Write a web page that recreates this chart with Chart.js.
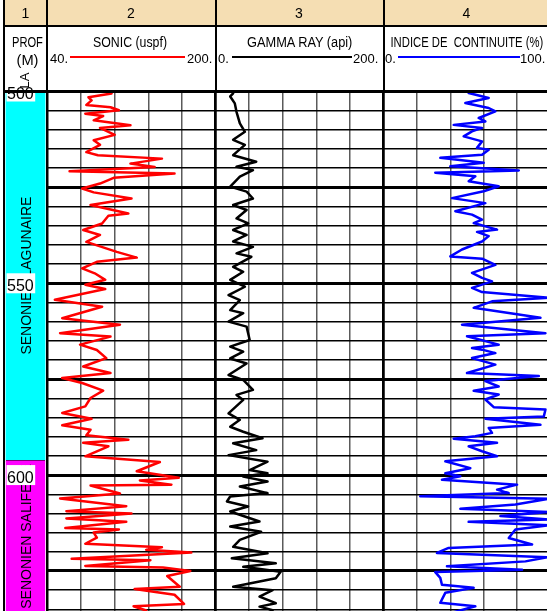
<!DOCTYPE html>
<html>
<head>
<meta charset="utf-8">
<title>Diagraphies</title>
<script src="https://cdn.jsdelivr.net/npm/chart.js@4.4.1/dist/chart.umd.min.js"></script>
<style>
  html, body { margin: 0; padding: 0; }
  body { width: 547px; height: 611px; overflow: hidden; position: relative; background: #fff;
         font-family: "Liberation Sans", Arial, sans-serif; color: #000; }
  canvas { position: absolute; z-index: 1; }
  .rule { position: absolute; z-index: 5; }
  .txt { position: absolute; white-space: pre; line-height: normal; z-index: 6; }
</style>
</head>
<body>
<div style="position:absolute;left:4px;top:0;width:546px;height:26px;background:#f5deb3;"></div>
<canvas id="track1"></canvas>
<canvas id="track2"></canvas>
<canvas id="track3"></canvas>
<canvas id="track4"></canvas>
<script>
// depth window (m)
const depthMin = 500;
const depthMax = 640;
const depthLabels = [500, 550, 600];

// stratigraphy column
const strataNames = ['SENONIEN LAGUNAIRE', 'SENONIEN SALIFERE'];
const strataTop = [500, 596];
const strataBase = [596, 636];
const strataColors = ['#00ffff', '#ff00ff'];

// SONIC (uspf)
const sonicDepth = [500.5, 501.5, 502.3, 503.5, 504.1, 504.9, 505.8, 506.4, 507.5, 508.8, 509.5, 511.3, 512.7, 513.9, 515.8, 516.6, 517.5, 518.8, 519.7, 520.8,
  521.4, 522.5, 524, 525.3, 526.3, 527.9, 529.6, 531.8, 532.4, 534.4, 536.1, 537.4, 539.2, 541.8, 543.3, 544.4, 546.1, 547.4, 549.1, 550.4,
  551.5, 554.3, 556.1, 559.1, 560.8, 563, 563.9, 566, 567.4, 569.5, 571.7, 573.4, 574.7, 576, 578, 579.9, 582.1, 583.8, 585.3, 587,
  588.2, 589.6, 590.8, 591.6, 592.5, 595.1, 596.6, 599, 600.7, 601.4, 602.5, 602.7, 604.8, 606.1, 608.1, 609.4, 610, 611.3, 612.2, 613.8,
  614.2, 615, 616.3, 617.9, 618.8, 619.5, 620.2, 621.8, 622.2, 623.7, 624.1, 625, 626.3, 629.1, 629.7, 631.2, 633.6, 634.2, 635.3, 637,
  638.5, 640];
const sonicValue = [101, 79, 82, 77, 100, 108, 76, 93, 84, 119, 90, 104, 84, 90, 77, 88, 149, 119, 142, 61,
  161, 103, 90, 73, 84, 120, 81, 117, 98, 92, 74, 90, 77, 106, 125, 87, 73, 85, 95, 76,
  95, 47, 92, 54, 109, 52, 100, 71, 87, 96, 74, 100, 54, 73, 93, 81, 76, 54, 82, 54,
  81, 77, 117, 74, 98, 76, 147, 125, 165, 128, 158, 81, 109, 52, 115, 58, 120, 58, 115, 57,
  108, 84, 87, 76, 149, 134, 177, 63, 138, 76, 150, 176, 154, 166, 123, 161, 170, 122, 134, 128,
  150, 130];

// GAMMA RAY (api)
const gammaDepth = [500.5, 501.3, 503.1, 505.3, 508.3, 510.5, 512.6, 513.9, 516.6, 518.3, 519.6, 520.5, 522.2, 524.8, 526.1, 527.9, 529.6, 530.9, 533.1, 534.4,
  536.1, 537.4, 539.1, 540.5, 542.2, 543.1, 545.7, 547, 549.1, 550.9, 553.1, 554.4, 557, 557.8, 560, 561.3, 564.8, 566.5, 567.8, 569.6,
  570.9, 573.9, 575.2, 577.8, 579.1, 580.4, 583.9, 585.6, 587.4, 588.7, 590.4, 591.7, 593.5, 594.8, 596.5, 598.7, 599.5, 600.4, 601.7, 603,
  604.7, 605.6, 606.9, 608.2, 609.5, 612.1, 613.4, 614.8, 616.9, 618.7, 620.4, 621.7, 623, 623.9, 625.2, 626.9, 629.1, 630, 631.7, 633.4,
  634.3, 635.2, 637, 639];
const gammaValue = [21, 17.5, 23, 25, 29, 35, 21, 35, 21, 48.5, 25, 44.6, 29, 17.5, 37, 44.6, 21, 37, 25, 39,
  21, 37, 21, 44.6, 25, 42.7, 21, 33, 17.5, 35, 15.5, 29, 17.5, 33, 15.5, 37, 40.7, 17.5, 33, 17.5,
  37, 15.5, 33, 44.6, 25, 33, 15.5, 29, 17.5, 33, 56, 21, 48.5, 15.5, 62, 40.7, 62, 33, 62, 29,
  62, 17.5, 13.6, 38.8, 17.5, 52.4, 17.5, 54.3, 29, 21, 62, 19.4, 71.8, 33, 77.6, 71.8, 21, 68, 52.4, 71.8,
  52.4, 68, 55, 65];

// INDICE DE CONTINUITE (%)
const indexDepth = [500.4, 501.7, 503, 504.3, 505.2, 506.9, 507.8, 508.7, 509.5, 510.4, 511.7, 513, 514.7, 515.2, 516.5, 517.3, 518.6, 519.5, 520.6, 521.2,
  522.1, 523.4, 524.7, 526, 527.8, 529.1, 531.2, 532.1, 533.4, 534.3, 536, 536.6, 537.7, 539.1, 541.2, 543, 543.6, 545.2, 547.3, 548.6,
  549.5, 551.2, 552.3, 553.8, 554.7, 556.4, 559, 560.8, 563, 563.8, 566, 566.9, 567.3, 568.2, 569.5, 571.2, 573.4, 574.2, 575.5, 576.9,
  578, 579, 580.3, 582.3, 582.9, 584.7, 585.3, 586.9, 587.7, 589, 589.9, 590.5, 591.6, 592.5, 593.8, 595.1, 596.4, 598.2, 599.5, 600.3,
  601.2, 602.5, 603.8, 604.7, 605.5, 606.2, 607.7, 608.8, 609.6, 610.7, 611.6, 612.2, 613.1, 614.2, 616.4, 618.1, 619, 620.3, 621.4, 622.5,
  623.8, 624.7, 625.3, 626.8, 628.6, 629.4, 630.7, 633.3, 634.2, 636, 638];
const indexValue = [51, 63, 49, 63, 67, 57, 61, 42, 59, 53, 48, 59, 56, 63, 59, 34, 60, 40, 81, 31,
  55, 51, 69, 60, 41, 61, 43, 53, 59, 54, 68, 56, 63, 59, 47, 40, 59, 67, 53, 59,
  65, 53, 59, 99, 65, 54, 94, 47, 97, 50, 69, 53, 59, 67, 53, 67, 50, 93, 61, 69,
  54, 69, 61, 66, 97, 96, 61, 94, 63, 65, 55, 42, 68, 51, 59, 68, 37, 52, 37, 46,
  35, 80, 68, 75, 22, 99, 79, 46, 99, 70, 99, 51, 99, 79, 75, 89, 39, 32, 98, 85,
  38, 83, 31, 34, 35, 54, 37, 34, 55, 40, 50];

const tracks = [
  { id: 'track2', left: 47.5, width: 168, min: 40, max: 200, step: 32, depth: sonicDepth, values: sonicValue, color: '#ff0000' },
  { id: 'track3', left: 215.5, width: 168, min: 0, max: 200, step: 40, depth: gammaDepth, values: gammaValue, color: '#000000' },
  { id: 'track4', left: 383.5, width: 167, min: 0, max: 100, step: 20, depth: indexDepth, values: indexValue, color: '#0000ff' }
];

const canvasTop = 80, areaTop = 91.5, areaHeight = 537, canvasHeight = 560;
const FONT = '"Liberation Sans", Arial, sans-serif';

// size a canvas so that its chart area lands on the given page pixels
function placeCanvas(id, areaLeft, areaWidth) {
  const c = document.getElementById(id);
  const left = Math.floor(areaLeft) - 7;
  const padLeft = areaLeft - left;
  const width = Math.ceil(padLeft + areaWidth + 8);
  c.width = width;
  c.height = canvasHeight;
  c.style.left = left + 'px';
  c.style.top = canvasTop + 'px';
  const padTop = areaTop - canvasTop;
  return {
    canvas: c,
    padding: { left: padLeft, right: width - padLeft - areaWidth, top: padTop, bottom: canvasHeight - padTop - areaHeight }
  };
}

// rotated formation names and white depth boxes in column 1
const strataText = {
  id: 'strataText',
  afterDatasetsDraw(chart) {
    const { ctx, chartArea, scales: { y } } = chart;
    const cx = (chartArea.left + chartArea.right) / 2 + 2;
    ctx.save();
    ctx.fillStyle = '#000';
    ctx.font = '14px ' + FONT;
    ctx.textAlign = 'center';
    ctx.textBaseline = 'middle';
    strataNames.forEach((name, i) => {
      const py = y.getPixelForValue((strataTop[i] + strataBase[i]) / 2);
      ctx.save();
      ctx.translate(cx, py);
      ctx.rotate(-Math.PI / 2);
      ctx.fillText(name, 0, 0);
      ctx.restore();
    });
    ctx.font = '16px ' + FONT;
    ctx.textAlign = 'left';
    ctx.textBaseline = 'alphabetic';
    depthLabels.forEach(d => {
      const py = y.getPixelForValue(d);
      const w = ctx.measureText(String(d)).width;
      ctx.fillStyle = '#fff';
      ctx.fillRect(chartArea.left + 1, py - 10, w + 2, 20);
      ctx.fillStyle = '#000';
      ctx.fillText(String(d), chartArea.left + 1.5, py + 7.5);
    });
    ctx.restore();
  }
};

// column 1: stratigraphy
(function () {
  const p = placeCanvas('track1', 5.5, 40);
  new Chart(p.canvas, {
    type: 'bar',
    data: {
      labels: ['strat'],
      datasets: strataNames.map((name, i) => ({
        label: name,
        data: [[strataTop[i], strataBase[i]]],
        backgroundColor: strataColors[i],
        borderColor: '#7a007a',
        borderWidth: i === 0 ? 0 : { top: 1.5, left: 0, right: 0, bottom: 0 },
        borderSkipped: false,
        grouped: false,
        barPercentage: 1,
        categoryPercentage: 1
      }))
    },
    options: {
      responsive: false,
      animation: false,
      events: [],
      layout: { padding: p.padding },
      plugins: { legend: { display: false }, tooltip: { enabled: false } },
      scales: {
        x: { display: false },
        y: { display: false, min: depthMin, max: depthMax, reverse: true }
      }
    },
    plugins: [strataText]
  });
})();

// columns 2-4: curves
tracks.forEach(t => {
  const p = placeCanvas(t.id, t.left, t.width);
  new Chart(p.canvas, {
    type: 'scatter',
    data: {
      datasets: [{
        data: t.depth.map((d, i) => ({ x: t.values[i], y: d })),
        showLine: true,
        borderColor: t.color,
        borderWidth: 2.5,
        pointRadius: 0,
        tension: 0,
        borderJoinStyle: 'round',
        borderCapStyle: 'round'
      }]
    },
    options: {
      responsive: false,
      animation: false,
      events: [],
      layout: { padding: p.padding },
      plugins: { legend: { display: false }, tooltip: { enabled: false } },
      scales: {
        x: {
          type: 'linear', min: t.min, max: t.max, position: 'top',
          ticks: { display: false, stepSize: t.step },
          border: { display: false },
          grid: {
            drawTicks: false,
            color: c => (c.tick.value === t.min || c.tick.value === t.max) ? '#000' : '#5a5a5a',
            lineWidth: c => (c.tick.value === t.min || c.tick.value === t.max) ? 2.5 : 1.5
          },
          afterFit: s => { s.height = 0; }
        },
        y: {
          type: 'linear', min: depthMin, max: depthMax, reverse: true,
          ticks: { display: false, stepSize: 5 },
          border: { display: false },
          grid: {
            drawTicks: false,
            color: '#000',
            lineWidth: c => c.tick.value % 25 === 0 ? 3 : 1.5
          },
          afterFit: s => { s.width = 0; }
        }
      }
    }
  });
});

// header frame and titles
function rule(x, y, w, h, color) {
  const d = document.createElement('div');
  d.className = 'rule';
  Object.assign(d.style, { left: x + 'px', top: y + 'px', width: w + 'px', height: h + 'px', background: color || '#000' });
  document.body.appendChild(d);
}
// anchor: 'c' centre, 'l' left edge, 'r' right edge at x; fit: target width in px
function label(str, x, y, size, anchor, fit, rotate) {
  const d = document.createElement('div');
  d.className = 'txt';
  d.textContent = str;
  d.style.fontSize = size + 'px';
  document.body.appendChild(d);
  const w = d.offsetWidth, h = d.offsetHeight;
  const sx = fit ? fit / w : 1;
  let left = x - w / 2;
  if (anchor === 'l') left = x - (w - w * sx) / 2;
  if (anchor === 'r') left = x - w + (w - w * sx) / 2;
  d.style.left = left + 'px';
  d.style.top = (y - h / 2) + 'px';
  d.style.transform = (rotate ? 'rotate(-90deg) ' : '') + 'scaleX(' + sx + ')';
}

rule(3, 0, 2, 611);
rule(3, 25, 547, 2);
rule(3, 90, 547, 3);
rule(46, 0, 2, 90);
rule(214.5, 0, 2, 90);
rule(382.5, 0, 2, 90);

label('1', 25.5, 13, 14, 'c');
label('2', 131, 13, 14, 'c');
label('3', 299, 13, 14, 'c');
label('4', 466.5, 13, 14, 'c');

label('PROF', 27, 41.7, 14, 'c', 31);
label('(M)', 27.3, 60, 14, 'c', 22);
label('LA', 25, 80.5, 13, 'c', 0, true);

label('SONIC (uspf)', 130, 41.7, 14, 'c', 74);
label('40.', 50, 58.3, 13, 'l');
rule(70, 55.5, 115, 2.5, '#ff0000');
label('200.', 212, 58.3, 13, 'r');

label('GAMMA RAY (api)', 299.5, 41.7, 14, 'c', 105);
label('0.', 218, 58.3, 13, 'l');
rule(232, 55.5, 120, 2.5, '#000');
label('200.', 378, 58.3, 13, 'r');

label('INDICE DE  CONTINUITE (%)', 466.5, 41.7, 14, 'c', 153);
label('0.', 385, 58.3, 13, 'l');
rule(398, 55.5, 122, 2.5, '#0000ff');
label('100.', 545, 58.3, 13, 'r');
</script>
</body>
</html>
